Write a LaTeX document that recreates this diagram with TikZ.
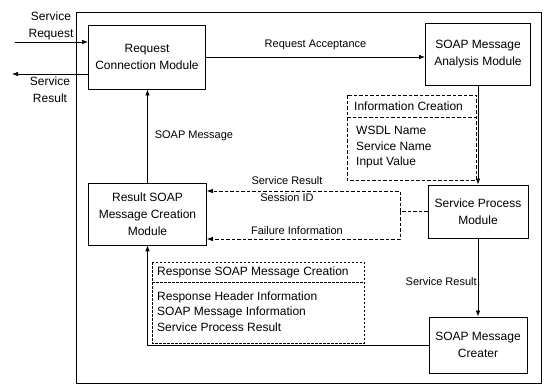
\documentclass[tikz,border=0pt]{standalone}
\usepackage{fontspec}
\setmainfont{Liberation Sans}
\usetikzlibrary{arrows.meta}
\begin{document}
\begin{tikzpicture}[x=1pt,y=-1pt,
  font=\fontsize{12}{17}\selectfont,
  modbox/.style={draw,line width=0.9pt,rectangle,align=center,inner sep=0pt},
  lbl/.style={font=\fontsize{11}{13}\selectfont,inner sep=0pt},
  item/.style={anchor=west,inner sep=0pt},
  conn/.style={line width=0.7pt},
  arr/.style={conn,-{Latex[length=6pt,width=4.5pt]}},
  dsh/.style={line width=0.8pt,dash pattern=on 3.5pt off 2pt},
  fdsh/.style={line width=0.8pt,dash pattern=on 2.5pt off 1.5pt}]
\useasboundingbox (0,0) rectangle (544,389);

% system frame
\draw[line width=0.8pt] (76,12) rectangle (541,383);

% modules
\node[modbox,minimum width=117pt,minimum height=64pt] (req) at (147,57)
  {Request\\Connection Module};
\node[modbox,minimum width=105pt,minimum height=62pt] (ana) at (478,54)
  {SOAP Message\\Analysis Module};
\node[modbox,minimum width=100pt,minimum height=53pt] (sp) at (478,211.5)
  {Service Process\\Module};
\node[modbox,minimum width=98pt,minimum height=56pt] (cre) at (478,345)
  {SOAP Message\\Creater};
\node[modbox,line width=0.6pt,minimum width=118pt,minimum height=62pt] (res) at (147.5,214)
  {Result SOAP\\Message Creation\\Module};

% information creation box
\draw[dsh] (347,95) rectangle (476,180);
\draw[dsh] (347,117) -- (476,117);
\node[item] (ic) at (354,106.5) {Information Creation};
\node[item] (ic1) at (356,130) {WSDL Name};
\node[item] (ic2) at (356,146) {Service Name};
\node[item] (ic3) at (356,162) {Input Value};

% response SOAP message creation box
\draw[fdsh] (152,262) rectangle (364,343);
\draw[fdsh] (152,282) -- (364,282);
\node[item] (rc) at (157,272) {Response SOAP Message Creation};
\node[item] (rc1) at (157,297) {Response Header Information};
\node[item] (rc2) at (157,312) {SOAP Message Information};
\node[item] (rc3) at (157,327) {Service Process Result};

% external request / result
\coordinate (srin) at (15,42);
\coordinate (srout) at (12,74);
\draw[arr] (srin) -- (srin -| req.west);
\draw[arr] (req.west |- srout) -- (srout);
\node[align=center,inner sep=0pt] (lsr) at (51,26) {Service\\Request};
\node[align=center,inner sep=0pt] (lsres) at (50,90) {Service\\Result};

% main flow
\draw[arr] (req.east |- 0,57) -- (ana.west |- 0,57)
  node[lbl,midway,above=7pt] (lacc) {Request Acceptance};
\draw[arr] (ana.south) -- (sp.north);
\draw[arr] (sp.south) -- (cre.north)
  node[lbl,pos=0.55,left=1pt] (lsres2) {Service Result};
\draw[arr] (cre.west) -| (res.south);
\draw[arr] (res.north) -- (req.south -| res.north)
  node[lbl,midway,right=7pt] (lsoap) {SOAP Message};

% result / failure feedback
\coordinate (dtop) at (400,191);
\coordinate (dbot) at (400,239);
\draw[dsh] (sp.west) -- (sp.west -| dtop);
\draw[dsh,-{Latex[length=6pt,width=4.5pt]}] (sp.west -| dtop) -- (dtop) -- (dtop -| res.east);
\draw[dsh,-{Latex[length=6pt,width=4.5pt]}] (sp.west -| dtop) -- (dbot) -- (dbot -| res.east);
\node[lbl] (lsr2) at (287,181) {Service Result};
\node[lbl] (lsid) at (287,197.5) {Session ID};
\node[lbl] (lfail) at (297,231) {Failure Information};
\end{tikzpicture}
\end{document}
